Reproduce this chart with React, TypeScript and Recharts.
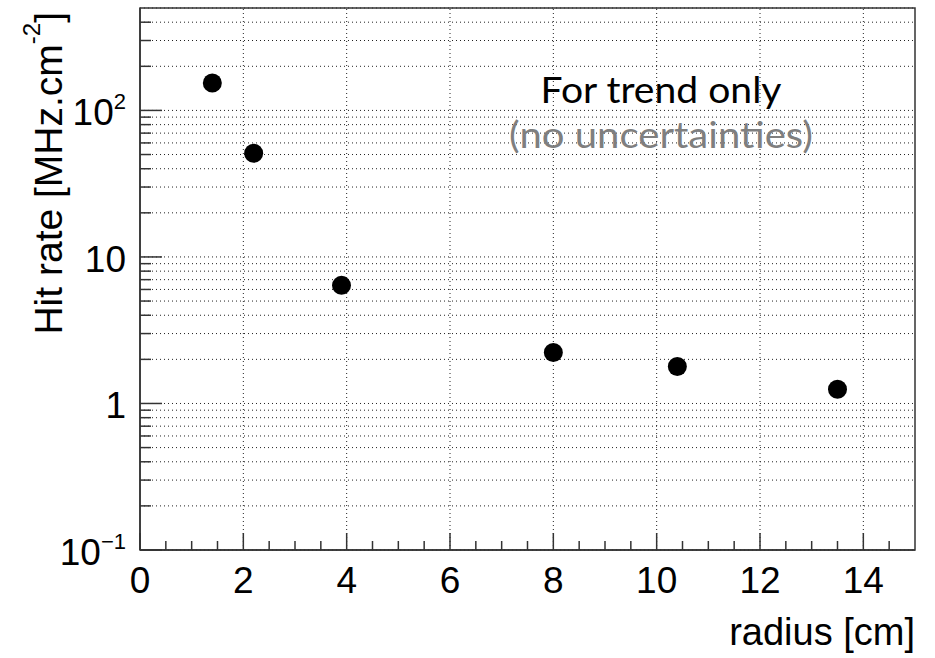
import { ScatterChart, Scatter, XAxis, YAxis, CartesianGrid, ReferenceLine, ReferenceArea } from 'recharts'

// radius [cm] vs hit rate [MHz.cm^-2]
const radius = [1.4, 2.2, 3.9, 8.0, 10.4, 13.5]
const hitRate = [154, 51, 6.4, 2.23, 1.79, 1.25]

const xMajor = [0, 2, 4, 6, 8, 10, 12, 14]
const xTicks = [0, 0.5, 1, 1.5, 2, 2.5, 3, 3.5, 4, 4.5, 5, 5.5, 6, 6.5, 7, 7.5, 8, 8.5, 9, 9.5, 10, 10.5, 11, 11.5, 12, 12.5, 13, 13.5, 14, 14.5]
const xGrid = [2, 4, 6, 8, 10, 12, 14]

const yMajor = [0.1, 1, 10, 100]
const yLabels: Record<string, [string, string]> = {
  '0.1': ['10', '\u22121'],
  '1': ['1', ''],
  '10': ['10', ''],
  '100': ['10', '2'],
}
const yTicks = [
  0.1, 0.2, 0.3, 0.4, 0.5, 0.6, 0.7, 0.8, 0.9,
  1, 2, 3, 4, 5, 6, 7, 8, 9,
  10, 20, 30, 40, 50, 60, 70, 80, 90,
  100, 200, 300, 400,
]

const data = radius.map((r, i) => ({ r, rate: hitRate[i] }))

const axisFont = '"Liberation Sans", Arial, Helvetica, sans-serif'
const axisColor = '#333'
const gridColor = '#222'

const XTick = (props: any) => {
  const { x, y, payload } = props
  const major = xMajor.includes(payload.value)
  return (
    <g>
      <line x1={x} x2={x} y1={y} y2={y - (major ? 17 : 9)} stroke={axisColor} strokeWidth={1.5} />
      {major && (
        <text x={x} y={y + 43} textAnchor="middle" fontSize={37} fontFamily={axisFont} fill="#000">
          {payload.value}
        </text>
      )}
    </g>
  )
}

const YTick = (props: any) => {
  const { x, y, payload } = props
  const major = yMajor.includes(payload.value)
  const lab = yLabels[String(payload.value)]
  return (
    <g>
      <line x1={x} x2={x + (major ? 22 : 11)} y1={y} y2={y} stroke={axisColor} strokeWidth={1.5} />
      {major && lab && (
        <text x={x - 14} y={y + 15} textAnchor="end" fontSize={37} fontFamily={axisFont} fill="#000">
          {lab[0]}
          {lab[1] && (
            <tspan fontSize={22} dy={-16}>
              {lab[1]}
            </tspan>
          )}
        </text>
      )}
    </g>
  )
}

const Dot = (props: any) => <circle cx={props.cx} cy={props.cy} r={9.5} fill="#000" />

export default function App() {
  return (
    <div style={{ position: 'absolute', left: 0, top: 0, width: 935, height: 658, background: '#fff' }}>
      <ScatterChart width={935} height={658} margin={{ top: 8, right: 20, bottom: 0, left: 0 }}>
        <CartesianGrid vertical={false} stroke={gridColor} strokeDasharray="1 3" />
        {xGrid.map((v) => (
          <ReferenceLine key={v} x={v} stroke={gridColor} strokeDasharray="1 3" />
        ))}
        <XAxis
          type="number"
          dataKey="r"
          domain={[0, 15]}
          allowDataOverflow
          ticks={xTicks}
          interval={0}
          tickSize={0}
          tickMargin={0}
          height={108}
          tick={<XTick />}
          axisLine={{ stroke: axisColor, strokeWidth: 1.5 }}
        />
        <YAxis
          type="number"
          dataKey="rate"
          scale="log"
          domain={[0.1, 500]}
          allowDataOverflow
          ticks={yTicks}
          interval={0}
          tickSize={0}
          tickMargin={0}
          width={140}
          tick={<YTick />}
          axisLine={{ stroke: axisColor, strokeWidth: 1.5 }}
        />
        <ReferenceArea x1={0} x2={15} y1={0.1} y2={500} fill="none" stroke={axisColor} strokeWidth={1.5} />
        <Scatter data={data} shape={<Dot />} isAnimationActive={false} />
      </ScatterChart>
      <svg width={935} height={658} style={{ position: 'absolute', left: 0, top: 0, pointerEvents: 'none' }}>
        <text
          x={62}
          y={12}
          transform="rotate(-90 62 12)"
          textAnchor="end"
          fontSize={39}
          fontFamily={axisFont}
          fill="#000"
        >
          Hit rate [MHz.cm
          <tspan fontSize={24} dy={-22}>-2</tspan>
          <tspan dy={22}>]</tspan>
        </text>
        <text x={915} y={645} textAnchor="end" fontSize={38} fontFamily={axisFont} fill="#000">
          radius [cm]
        </text>
        <text x={661} y={103} textAnchor="middle" fontSize={37} fontFamily="Lato, 'Open Sans', sans-serif" fill="#000" textLength={241} lengthAdjust="spacingAndGlyphs">
          For trend only
        </text>
        <text x={661} y={148} textAnchor="middle" fontSize={37} fontFamily="Lato, 'Open Sans', sans-serif" fill="#7f7f7f" textLength={304} lengthAdjust="spacingAndGlyphs">
          (no uncertainties)
        </text>
      </svg>
    </div>
  )
}
